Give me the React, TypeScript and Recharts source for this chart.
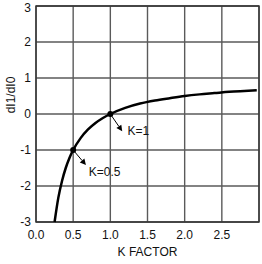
import { LineChart, Line, XAxis, YAxis, CartesianGrid, ReferenceLine, ReferenceDot, ReferenceArea } from 'recharts'

// K FACTOR vs dI1/dI0
const kValues = [0.25, 0.3, 0.35, 0.4, 0.45, 0.5, 0.6, 0.7, 0.8, 0.9, 1.0, 1.2, 1.4, 1.6, 1.8, 2.0, 2.2, 2.4, 2.6, 2.8, 2.97]
const ratioValues = [-3, -2.33, -1.86, -1.5, -1.22, -1, -0.67, -0.43, -0.25, -0.11, 0, 0.17, 0.29, 0.375, 0.44, 0.5, 0.545, 0.58, 0.615, 0.64, 0.66]

const xTicks = [0, 0.5, 1, 1.5, 2, 2.5, 3]
const yTicks = [-3, -2, -1, 0, 1, 2, 3]

// annotations: marked point, arrow tip, text anchor
const noteLabels = ['K=1', 'K=0.5']
const notePointX = [1, 0.5]
const notePointY = [0, -1]
const noteTipX = [1.16, 0.672]
const noteTipY = [-0.48, -1.42]
const noteTextX = [1.23, 0.71]
const noteTextY = [-0.48, -1.6]

const data = kValues.map((k, i) => ({ k, r: ratioValues[i] }))

const FONT = '"Liberation Sans", Arial, sans-serif'
const tickStyle = { fontSize: 12, fill: '#111', fontFamily: FONT }

function Arrow(props: any) {
  const { x1, y1, x2, y2 } = props
  if (x1 == null) return null
  const ang = Math.atan2(y2 - y1, x2 - x1)
  const len = 6
  const w = 3
  const bx = x2 - len * Math.cos(ang)
  const by = y2 - len * Math.sin(ang)
  const px = -Math.sin(ang) * w
  const py = Math.cos(ang) * w
  return (
    <g>
      <line x1={x1} y1={y1} x2={bx} y2={by} stroke="#000" strokeWidth={1} />
      <polygon points={`${x2},${y2} ${bx + px},${by + py} ${bx - px},${by - py}`} fill="#000" />
    </g>
  )
}

function NoteText(label: string) {
  return (props: any) => (
    <text x={props.cx} y={props.cy} dominantBaseline="central" fontSize={12} fontFamily={FONT} fill="#111">
      {label}
    </text>
  )
}

function YLabel(props: any) {
  const vb = props.viewBox || { x: 0, y: 6, width: 36, height: 216 }
  const x = vb.x + 11
  const y = vb.y + vb.height / 2 - 19
  return (
    <text x={x} y={y} transform={`rotate(-90 ${x} ${y})`} textAnchor="middle" dominantBaseline="central"
      fontSize={12} fontFamily={FONT} fill="#111">
      dI1/dI0
    </text>
  )
}

export default function App() {
  return (
    <div style={{ position: 'absolute', left: 0, top: 0, background: '#fff' }}>
      <LineChart width={262} height={264} data={data} margin={{ top: 6, right: 3, bottom: 0, left: 0 }}>
        <CartesianGrid stroke="#5a5a5a" strokeWidth={1.4} />
        <ReferenceArea x1={0} x2={3} y1={-3} y2={3} fill="none" stroke="#333" strokeWidth={1.4} />
        <XAxis
          dataKey="k"
          type="number"
          domain={[0, 3]}
          ticks={xTicks}
          tickFormatter={(v: number) => (v === 3 ? '' : v.toFixed(1))}
          axisLine={false}
          tickLine={false}
          tick={tickStyle}
          height={42}
          label={{ value: 'K FACTOR', position: 'insideBottom', offset: 8, fontSize: 12, fontFamily: FONT, fill: '#111' }}
        />
        <YAxis
          type="number"
          domain={[-3, 3]}
          ticks={yTicks}
          axisLine={false}
          tickLine={false}
          tickSize={3}
          tick={tickStyle}
          width={36}
          label={{ value: 'dI1/dI0', content: YLabel }}
        />
        <Line dataKey="r" type="monotone" stroke="#000" strokeWidth={2.5} dot={false} isAnimationActive={false} />
        {noteLabels.map((lab, i) => (
          <ReferenceLine
            key={'a' + lab}
            segment={[{ x: notePointX[i], y: notePointY[i] }, { x: noteTipX[i], y: noteTipY[i] }]}
            shape={Arrow}
          />
        ))}
        {noteLabels.map((lab, i) => (
          <ReferenceDot key={'p' + lab} x={notePointX[i]} y={notePointY[i]} r={3} fill="#000" stroke="none" />
        ))}
        {noteLabels.map((lab, i) => (
          <ReferenceDot key={'t' + lab} x={noteTextX[i]} y={noteTextY[i]} r={0} shape={NoteText(lab)} />
        ))}
      </LineChart>
    </div>
  )
}
